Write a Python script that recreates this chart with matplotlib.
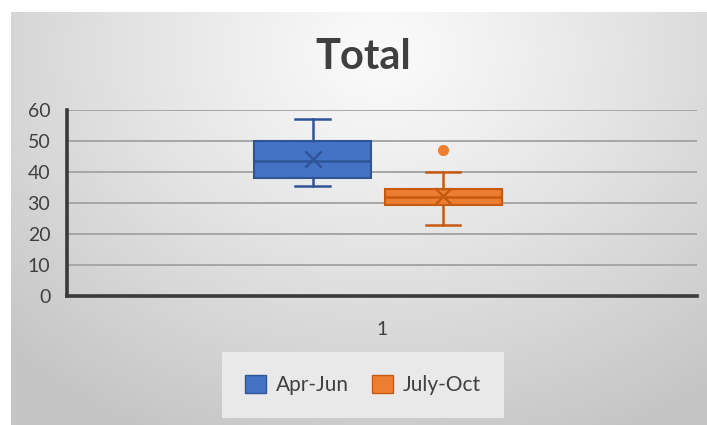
import numpy as np
import matplotlib
matplotlib.use("Agg")
import matplotlib.pyplot as plt
from matplotlib.patches import Patch

plt.rcParams['font.family'] = ['Lato', 'DejaVu Sans']

series = ["Apr-Jun", "July-Oct"]
whisker_low = [35.5, 23]
q1 = [38, 29.5]
median = [43.5, 32]
q3 = [50, 34.5]
whisker_high = [57, 40]
means = [44.3, 32.3]
outliers = [[], [47]]
category = ["1"]

fills = ["#4472C4", "#ED7D31"]
edges = ["#2F5597", "#C55A11"]

W, H = 707, 425
fig = plt.figure(figsize=(W / 100, H / 100), dpi=100)
fig.patch.set_facecolor("white")

# gradient background
bg = fig.add_axes([11 / W, 0, 1 - 11 / W, 1 - 12 / H])
yy, xx = np.mgrid[0:413, 0:696]
cx, cy = 370, 40
d = np.sqrt(((xx - cx) / 520.0) ** 2 + ((yy - cy) / 420.0) ** 2)
d = np.clip(d, 0, 1)
v = 0.985 - 0.21 * d ** 1.1
img = np.dstack([v, v, v])
bg.imshow(img, aspect="auto", extent=[0, 1, 0, 1], interpolation="bilinear")
bg.set_axis_off()

ax = fig.add_axes([67 / W, 1 - 296 / H, 630 / W, 186 / H])
ax.patch.set_alpha(0)

positions = [0.89, 1.097]
stats = []
for i in range(len(series)):
    stats.append(dict(whislo=whisker_low[i], q1=q1[i], med=median[i], q3=q3[i],
                      whishi=whisker_high[i], mean=means[i], fliers=outliers[i], label=series[i]))

for i, s in enumerate(stats):
    ax.bxp([s], positions=[positions[i]], widths=0.186, capwidths=0.055,
           showmeans=True, patch_artist=True,
           boxprops=dict(facecolor=fills[i], edgecolor=edges[i], linewidth=1.5),
           medianprops=dict(color=edges[i], linewidth=1.8),
           whiskerprops=dict(color=edges[i], linewidth=1.8),
           capprops=dict(color=edges[i], linewidth=1.8),
           meanprops=dict(marker="x", markeredgecolor=edges[i], markersize=12, markeredgewidth=1.8),
           flierprops=dict(marker="o", markerfacecolor=fills[i], markeredgecolor=fills[i], markersize=7),
           zorder=3)

ax.set_xlim(0.5, 1.5)
ax.set_ylim(0, 60)
ax.set_yticks(range(0, 61, 10))
ax.set_xticks([1])
ax.set_xticklabels(category)
ax.yaxis.grid(True, color="#a6a6a6", linewidth=1.4)
ax.set_axisbelow(True)
for sp in ["top", "right"]:
    ax.spines[sp].set_visible(False)
for sp in ["left", "bottom"]:
    ax.spines[sp].set_color("#3a3a3a")
    ax.spines[sp].set_linewidth(2.6)
ax.tick_params(axis="both", length=0, labelsize=14, colors="#404040")
ax.tick_params(axis="y", pad=12)
ax.tick_params(axis="x", pad=18)

fig.text(363 / W, 1 - 57 / H, "Total", ha="center", va="center", fontsize=30,
         fontweight="bold", color="#404040")

handles = [Patch(facecolor=fills[i], edgecolor=edges[i], label=series[i]) for i in range(2)]
leg = fig.legend(handles=handles, loc="center", bbox_to_anchor=(363 / W, 1 - 385 / H),
                 ncol=2, frameon=True, fontsize=15, handlelength=1.0, handleheight=1.0,
                 borderpad=1.1, columnspacing=1.1, handletextpad=0.5, labelcolor="#404040")
leg.get_frame().set_facecolor("#e9e9e9")
leg.get_frame().set_edgecolor("none")
leg.get_frame().set_alpha(1)
leg.get_frame().set_boxstyle("square", pad=0)

fig.savefig("out.png", dpi=100)
